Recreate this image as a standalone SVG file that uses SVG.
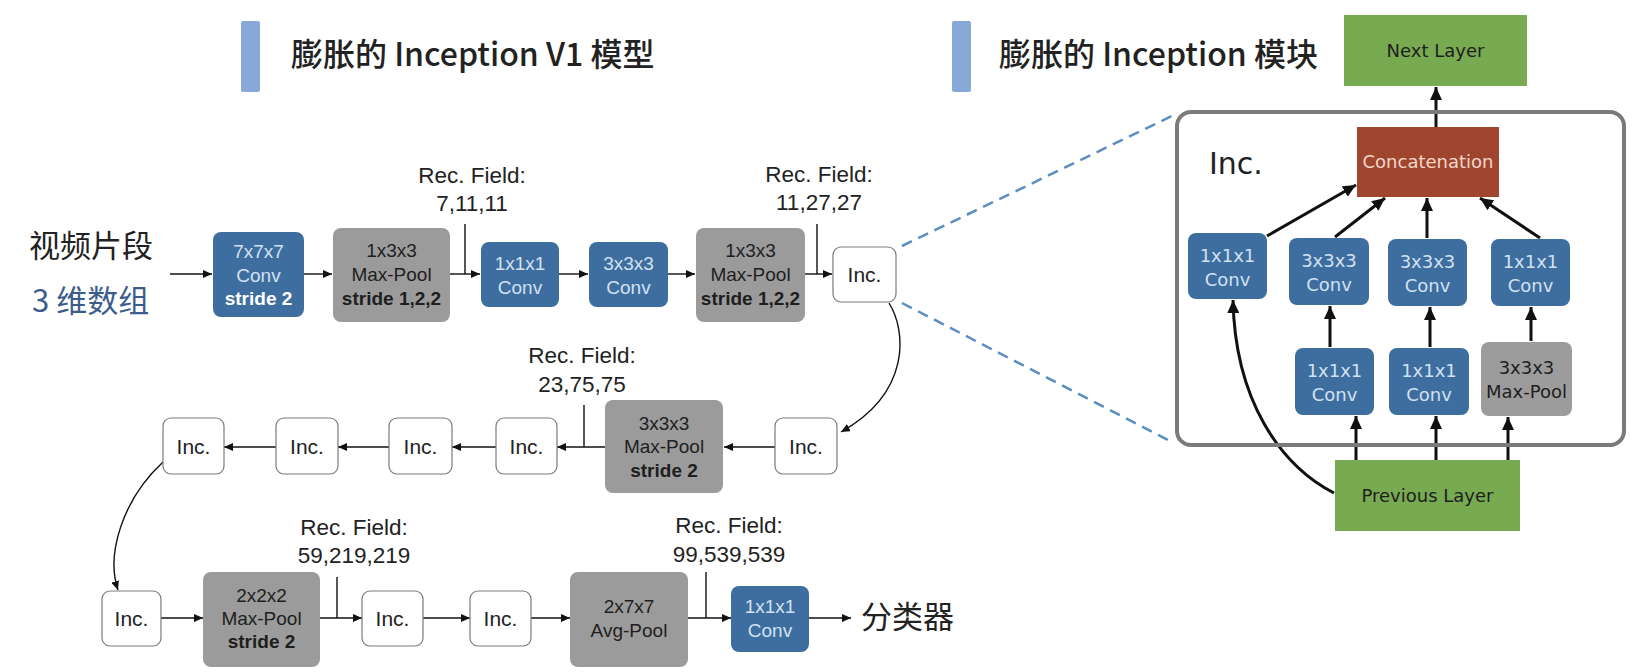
<svg xmlns="http://www.w3.org/2000/svg" width="1632" height="672" viewBox="0 0 1632 672">
<defs>
<style>
.bl{fill:#3d6e9f}
.gr{fill:#9b9b9b}
.inc{fill:#fff;stroke:#7a7a7a;stroke-width:1.2}
.gn{fill:#78aa52}
.lt{font-family:"Liberation Sans",Arial,sans-serif;font-size:19px;text-anchor:middle}
.wt{fill:#d3e1f0}
.dk{fill:#1e1e1e}
.b{font-weight:bold}
.rf{font-family:"Liberation Sans",Arial,sans-serif;font-size:22.5px;text-anchor:middle;fill:#222}
.il{font-family:"Liberation Sans",Arial,sans-serif;font-size:21px;text-anchor:middle;fill:#222}
.rt{font-family:"DejaVu Sans",Verdana,sans-serif;font-size:18px;text-anchor:middle}
.cj{font-family:"Noto Sans CJK SC",sans-serif;font-size:31px}
.tt{font-family:"Noto Sans CJK SC",sans-serif;font-size:32px;font-weight:500;fill:#222}
.c1{fill:none;stroke:#111;stroke-width:1.4}
.c2{fill:none;stroke:#111;stroke-width:3}
.tk{fill:none;stroke:#111;stroke-width:1.4}
.ds{fill:none;stroke:#5b8ec0;stroke-width:2.5;stroke-dasharray:11 7}
</style>
<marker id="a" markerUnits="userSpaceOnUse" markerWidth="9" markerHeight="8" refX="9" refY="4" orient="auto"><path d="M0,0 L9,4 L0,8 z" fill="#111"/></marker>
<marker id="b" markerUnits="userSpaceOnUse" markerWidth="13" markerHeight="12" refX="13" refY="6" orient="auto"><path d="M0,0 L13,6 L0,12 z" fill="#111"/></marker>
</defs>
<rect width="1632" height="672" fill="#fff"/>

<g id="title-left">
<rect x="241" y="21" width="19" height="71" rx="2" fill="#88a8d8"/>
<text class="tt" x="291" y="66">膨胀的 Inception V1 模型</text>
</g>
<g id="title-right">
<rect x="952" y="21" width="19" height="71" rx="2" fill="#88a8d8"/>
<text class="tt" x="999" y="66">膨胀的 Inception 模块</text>
</g>

<g id="input-label">
<text class="cj" x="29" y="257" fill="#222">视频片段</text>
<text class="cj" x="32" y="312" fill="#3b5b8c">3 维数组</text>
</g>

<g id="connectors">
<line class="c1" x1="170" y1="274" x2="212" y2="274" marker-end="url(#a)"/>
<line class="c1" x1="304" y1="274" x2="332" y2="274" marker-end="url(#a)"/>
<line class="c1" x1="450" y1="274" x2="480" y2="274" marker-end="url(#a)"/>
<line class="c1" x1="559" y1="274" x2="588" y2="274" marker-end="url(#a)"/>
<line class="c1" x1="668" y1="274" x2="695" y2="274" marker-end="url(#a)"/>
<line class="c1" x1="805" y1="274" x2="832" y2="274" marker-end="url(#a)"/>
<line class="tk" x1="465" y1="224" x2="465" y2="274"/>
<line class="tk" x1="817" y1="224" x2="817" y2="274"/>
<path class="c1" d="M889 303 C906 330 912 392 841 432" marker-end="url(#a)"/>
<line class="c1" x1="775" y1="447" x2="724" y2="447" marker-end="url(#a)"/>
<line class="c1" x1="605" y1="447" x2="557" y2="447" marker-end="url(#a)"/>
<line class="c1" x1="496" y1="447" x2="452" y2="447" marker-end="url(#a)"/>
<line class="c1" x1="389" y1="447" x2="338" y2="447" marker-end="url(#a)"/>
<line class="c1" x1="276" y1="447" x2="224" y2="447" marker-end="url(#a)"/>
<line class="tk" x1="584" y1="405" x2="584" y2="447"/>
<path class="c1" d="M163 462 C122 500 106 555 118 590" marker-end="url(#a)"/>
<line class="c1" x1="161" y1="618" x2="203" y2="618" marker-end="url(#a)"/>
<line class="c1" x1="320" y1="618" x2="362" y2="618" marker-end="url(#a)"/>
<line class="c1" x1="423" y1="618" x2="470" y2="618" marker-end="url(#a)"/>
<line class="c1" x1="531" y1="618" x2="570" y2="618" marker-end="url(#a)"/>
<line class="c1" x1="688" y1="618" x2="731" y2="618" marker-end="url(#a)"/>
<line class="c1" x1="809" y1="618" x2="851" y2="618" marker-end="url(#a)"/>
<line class="tk" x1="337" y1="577" x2="337" y2="618"/>
<line class="tk" x1="706" y1="572" x2="706" y2="618"/>
<line class="ds" x1="902" y1="246" x2="1176" y2="114"/>
<line class="ds" x1="902" y1="303" x2="1168" y2="440"/>
<line class="c2" x1="1436" y1="127" x2="1436" y2="87" marker-end="url(#b)"/>
<line class="c2" x1="1267" y1="236" x2="1356" y2="185" marker-end="url(#b)"/>
<line class="c2" x1="1335" y1="237" x2="1385" y2="198" marker-end="url(#b)"/>
<line class="c2" x1="1427" y1="238" x2="1427" y2="198" marker-end="url(#b)"/>
<line class="c2" x1="1540" y1="238" x2="1480" y2="198" marker-end="url(#b)"/>
<line class="c2" x1="1330" y1="347" x2="1330" y2="306" marker-end="url(#b)"/>
<line class="c2" x1="1430" y1="347" x2="1430" y2="307" marker-end="url(#b)"/>
<line class="c2" x1="1531" y1="341" x2="1531" y2="307" marker-end="url(#b)"/>
<line class="c2" x1="1356" y1="460" x2="1356" y2="416" marker-end="url(#b)"/>
<line class="c2" x1="1436" y1="460" x2="1436" y2="416" marker-end="url(#b)"/>
<line class="c2" x1="1508" y1="460" x2="1508" y2="417" marker-end="url(#b)"/>
<path class="c2" d="M1334 493 C1280 465 1235 400 1233 300" marker-end="url(#b)"/>
</g>

<g id="rf1"><text class="rf" x="472" y="183">Rec. Field:</text><text class="rf" x="472" y="211">7,11,11</text></g>
<g id="rf2"><text class="rf" x="819" y="182">Rec. Field:</text><text class="rf" x="819" y="210">11,27,27</text></g>
<g id="rf3"><text class="rf" x="582" y="363">Rec. Field:</text><text class="rf" x="582" y="392">23,75,75</text></g>
<g id="rf4"><text class="rf" x="354" y="535">Rec. Field:</text><text class="rf" x="354" y="563">59,219,219</text></g>
<g id="rf5"><text class="rf" x="729" y="533">Rec. Field:</text><text class="rf" x="729" y="562">99,539,539</text></g>

<g id="conv7">
<rect class="bl" x="213" y="232" width="91" height="85" rx="8"/>
<text class="lt wt" x="258.5" y="258">7x7x7</text>
<text class="lt wt" x="258.5" y="282">Conv</text>
<text class="lt b" x="258.5" y="305" fill="#fff">stride 2</text>
</g>
<g id="pool1">
<rect class="gr" x="333" y="228" width="117" height="94" rx="8"/>
<text class="lt dk" x="391.5" y="257">1x3x3</text>
<text class="lt dk" x="391.5" y="281">Max-Pool</text>
<text class="lt dk b" x="391.5" y="305">stride 1,2,2</text>
</g>
<g id="conv1a">
<rect class="bl" x="481" y="242" width="78" height="65" rx="8"/>
<text class="lt wt" x="520" y="270">1x1x1</text>
<text class="lt wt" x="520" y="294">Conv</text>
</g>
<g id="conv3a">
<rect class="bl" x="589" y="242" width="79" height="65" rx="8"/>
<text class="lt wt" x="628.5" y="270">3x3x3</text>
<text class="lt wt" x="628.5" y="294">Conv</text>
</g>
<g id="pool2">
<rect class="gr" x="696" y="228" width="109" height="94" rx="8"/>
<text class="lt dk" x="750.5" y="257">1x3x3</text>
<text class="lt dk" x="750.5" y="281">Max-Pool</text>
<text class="lt dk b" x="750.5" y="305">stride 1,2,2</text>
</g>
<g id="inc1"><rect class="inc" x="833" y="247" width="63" height="55" rx="8"/><text class="il" x="864.5" y="282">Inc.</text></g>

<g id="inc2"><rect class="inc" x="775" y="418" width="62" height="56" rx="8"/><text class="il" x="806" y="454">Inc.</text></g>
<g id="pool3">
<rect class="gr" x="605" y="400" width="118" height="93" rx="8"/>
<text class="lt dk" x="664" y="430">3x3x3</text>
<text class="lt dk" x="664" y="453">Max-Pool</text>
<text class="lt dk b" x="664" y="477">stride 2</text>
</g>
<g id="inc3"><rect class="inc" x="496" y="418" width="61" height="56" rx="8"/><text class="il" x="526.5" y="454">Inc.</text></g>
<g id="inc4"><rect class="inc" x="389" y="418" width="63" height="56" rx="8"/><text class="il" x="420.5" y="454">Inc.</text></g>
<g id="inc5"><rect class="inc" x="276" y="418" width="62" height="56" rx="8"/><text class="il" x="307" y="454">Inc.</text></g>
<g id="inc6"><rect class="inc" x="163" y="418" width="61" height="56" rx="8"/><text class="il" x="193.5" y="454">Inc.</text></g>

<g id="inc7"><rect class="inc" x="102" y="591" width="59" height="55" rx="8"/><text class="il" x="131.5" y="626">Inc.</text></g>
<g id="pool4">
<rect class="gr" x="203" y="572" width="117" height="95" rx="8"/>
<text class="lt dk" x="261.5" y="602">2x2x2</text>
<text class="lt dk" x="261.5" y="625">Max-Pool</text>
<text class="lt dk b" x="261.5" y="648">stride 2</text>
</g>
<g id="inc8"><rect class="inc" x="362" y="591" width="61" height="55" rx="8"/><text class="il" x="392.5" y="626">Inc.</text></g>
<g id="inc9"><rect class="inc" x="470" y="591" width="61" height="55" rx="8"/><text class="il" x="500.5" y="626">Inc.</text></g>
<g id="avgpool">
<rect class="gr" x="570" y="572" width="118" height="95" rx="8"/>
<text class="lt dk" x="629" y="613">2x7x7</text>
<text class="lt dk" x="629" y="637">Avg-Pool</text>
</g>
<g id="conv1b">
<rect class="bl" x="731" y="586" width="78" height="66" rx="8"/>
<text class="lt wt" x="770" y="613">1x1x1</text>
<text class="lt wt" x="770" y="637">Conv</text>
</g>
<g id="classifier"><text class="cj" x="861" y="628" fill="#222">分类器</text></g>

<g id="module">
<rect x="1177" y="112" width="447" height="333" rx="14" fill="none" stroke="#7a7a7a" stroke-width="4"/>
<text x="1209" y="174" font-family="DejaVu Sans,Verdana,sans-serif" font-size="30" fill="#222">Inc.</text>
</g>
<g id="next-layer">
<rect class="gn" x="1344" y="15" width="183" height="71"/>
<text class="rt dk" x="1435.5" y="57">Next Layer</text>
</g>
<g id="concat">
<rect x="1357" y="127" width="142" height="70" fill="#a0462f"/>
<text class="rt" x="1428" y="168" fill="#f3d6ca">Concatenation</text>
</g>
<g id="m-b1">
<rect class="bl" x="1188" y="233" width="79" height="66" rx="8"/>
<text class="rt wt" x="1227.5" y="262">1x1x1</text>
<text class="rt wt" x="1227.5" y="286">Conv</text>
</g>
<g id="m-b2">
<rect class="bl" x="1289" y="238" width="80" height="67" rx="8"/>
<text class="rt wt" x="1329" y="267">3x3x3</text>
<text class="rt wt" x="1329" y="291">Conv</text>
</g>
<g id="m-b3">
<rect class="bl" x="1388" y="239" width="79" height="67" rx="8"/>
<text class="rt wt" x="1427.5" y="268">3x3x3</text>
<text class="rt wt" x="1427.5" y="292">Conv</text>
</g>
<g id="m-b4">
<rect class="bl" x="1491" y="239" width="79" height="67" rx="8"/>
<text class="rt wt" x="1530.5" y="268">1x1x1</text>
<text class="rt wt" x="1530.5" y="292">Conv</text>
</g>
<g id="m-c2">
<rect class="bl" x="1295" y="348" width="79" height="67" rx="8"/>
<text class="rt wt" x="1334.5" y="377">1x1x1</text>
<text class="rt wt" x="1334.5" y="401">Conv</text>
</g>
<g id="m-c3">
<rect class="bl" x="1389" y="348" width="80" height="67" rx="8"/>
<text class="rt wt" x="1429" y="377">1x1x1</text>
<text class="rt wt" x="1429" y="401">Conv</text>
</g>
<g id="m-c4">
<rect x="1481" y="342" width="91" height="74" rx="8" fill="#9c9c9c"/>
<text class="rt dk" x="1526.5" y="374">3x3x3</text>
<text class="rt dk" x="1526.5" y="398">Max-Pool</text>
</g>
<g id="prev-layer">
<rect class="gn" x="1335" y="460" width="185" height="71"/>
<text class="rt dk" x="1427.5" y="502">Previous Layer</text>
</g>
</svg>
